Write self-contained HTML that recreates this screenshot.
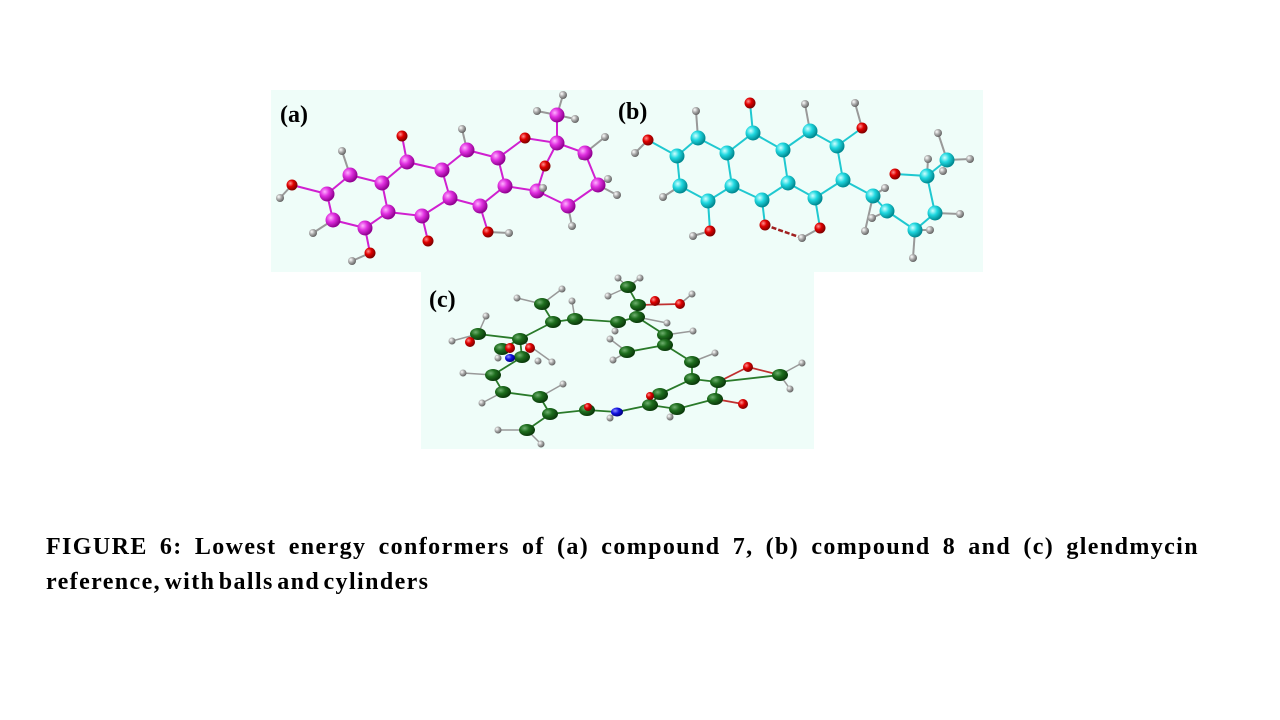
<!DOCTYPE html>
<html><head><meta charset="utf-8"><style>
body{margin:0;width:1280px;height:720px;background:#fff;overflow:hidden;position:relative;font-family:"Liberation Serif",serif}
svg{position:absolute;left:0;top:0}
.cap{position:absolute;left:46px;width:1153px;font-weight:bold;font-size:24px;letter-spacing:1.4px;line-height:35px;color:#000;white-space:nowrap}
.l1{top:530px;text-align:justify;text-align-last:justify;white-space:normal}
.l2{top:565px;word-spacing:-4px}
</style></head><body>
<svg width="1280" height="720" viewBox="0 0 1280 720">
<defs>
<radialGradient id="gm" cx="35%" cy="35%" r="65%"><stop offset="0" stop-color="#ffb0ff"/><stop offset=".45" stop-color="#e030e0"/><stop offset="1" stop-color="#900090"/></radialGradient>
<radialGradient id="gc" cx="35%" cy="35%" r="65%"><stop offset="0" stop-color="#d0ffff"/><stop offset=".45" stop-color="#20d8e0"/><stop offset="1" stop-color="#008890"/></radialGradient>
<radialGradient id="gg" cx="35%" cy="35%" r="65%"><stop offset="0" stop-color="#70b070"/><stop offset=".45" stop-color="#1e6e1e"/><stop offset="1" stop-color="#0a3a0a"/></radialGradient>
<radialGradient id="go" cx="35%" cy="35%" r="65%"><stop offset="0" stop-color="#ff9090"/><stop offset=".45" stop-color="#e00000"/><stop offset="1" stop-color="#800000"/></radialGradient>
<radialGradient id="gh" cx="35%" cy="35%" r="65%"><stop offset="0" stop-color="#fff"/><stop offset=".5" stop-color="#aaa"/><stop offset="1" stop-color="#666"/></radialGradient>
<radialGradient id="gn" cx="35%" cy="35%" r="65%"><stop offset="0" stop-color="#9090ff"/><stop offset=".5" stop-color="#1010e0"/><stop offset="1" stop-color="#000080"/></radialGradient>
</defs>
<rect x="271" y="90" width="712" height="182" fill="#effdf9"/>
<rect x="421" y="272" width="393" height="177" fill="#effdf9"/>
<text x="280" y="122" font-family="Liberation Serif" font-weight="bold" font-size="24">(a)</text>
<text x="618" y="119" font-family="Liberation Serif" font-weight="bold" font-size="24">(b)</text>
<text x="429" y="307" font-family="Liberation Serif" font-weight="bold" font-size="24">(c)</text>

<g stroke="#d020d0" stroke-width="2" fill="none">
<polyline points="350,175 327,194 333,220 365,228 388,212 382,183 350,175"/>
<polyline points="382,183 407,162 442,170 450,198 422,216 388,212"/>
<polyline points="442,170 467,150 498,158 505,186 480,206 450,198"/>
<polyline points="505,186 537,191 545,166 557,143 525,138 498,158"/>
<polyline points="557,143 585,153 598,185 568,206 537,191"/>
<line x1="557" y1="143" x2="557" y2="115"/>
<line x1="407" y1="162" x2="402" y2="136"/><line x1="327" y1="194" x2="292" y2="185"/>
<line x1="365" y1="228" x2="370" y2="253"/><line x1="422" y1="216" x2="428" y2="241"/>
<line x1="480" y1="206" x2="488" y2="232"/>
</g>
<g stroke="#999" stroke-width="2">
<line x1="350" y1="175" x2="342" y2="151"/><line x1="292" y1="185" x2="280" y2="198"/>
<line x1="333" y1="220" x2="313" y2="233"/><line x1="370" y1="253" x2="352" y2="261"/>
<line x1="467" y1="150" x2="462" y2="129"/><line x1="488" y1="232" x2="509" y2="233"/>
<line x1="557" y1="115" x2="563" y2="95"/><line x1="557" y1="115" x2="537" y2="111"/><line x1="557" y1="115" x2="575" y2="119"/>
<line x1="585" y1="153" x2="605" y2="137"/><line x1="585" y1="153" x2="582" y2="156"/>
<line x1="598" y1="185" x2="608" y2="179"/><line x1="598" y1="185" x2="617" y2="195"/>
<line x1="568" y1="206" x2="572" y2="226"/><line x1="537" y1="191" x2="543" y2="188"/>
</g>
<g fill="url(#gh)">
<circle cx="342" cy="151" r="4"/><circle cx="280" cy="198" r="4"/><circle cx="313" cy="233" r="4"/><circle cx="352" cy="261" r="4"/><circle cx="462" cy="129" r="4"/><circle cx="509" cy="233" r="4"/><circle cx="563" cy="95" r="4"/><circle cx="537" cy="111" r="4"/><circle cx="575" cy="119" r="4"/><circle cx="605" cy="137" r="4"/><circle cx="582" cy="156" r="4"/><circle cx="608" cy="179" r="4"/><circle cx="617" cy="195" r="4"/><circle cx="572" cy="226" r="4"/>
</g>
<g fill="url(#go)">
<circle cx="402" cy="136" r="5.5"/><circle cx="292" cy="185" r="5.5"/><circle cx="370" cy="253" r="5.5"/><circle cx="428" cy="241" r="5.5"/><circle cx="488" cy="232" r="5.5"/><circle cx="525" cy="138" r="5.5"/><circle cx="545" cy="166" r="5.5"/>
</g>
<g fill="url(#gm)">
<circle cx="350" cy="175" r="7.5"/><circle cx="327" cy="194" r="7.5"/><circle cx="333" cy="220" r="7.5"/><circle cx="365" cy="228" r="7.5"/><circle cx="388" cy="212" r="7.5"/><circle cx="382" cy="183" r="7.5"/><circle cx="407" cy="162" r="7.5"/><circle cx="422" cy="216" r="7.5"/><circle cx="442" cy="170" r="7.5"/><circle cx="450" cy="198" r="7.5"/><circle cx="467" cy="150" r="7.5"/><circle cx="480" cy="206" r="7.5"/><circle cx="498" cy="158" r="7.5"/><circle cx="505" cy="186" r="7.5"/><circle cx="537" cy="191" r="7.5"/><circle cx="557" cy="143" r="7.5"/><circle cx="585" cy="153" r="7.5"/><circle cx="598" cy="185" r="7.5"/><circle cx="568" cy="206" r="7.5"/><circle cx="557" cy="115" r="7.5"/>
</g>
<circle cx="543" cy="188" r="4" fill="url(#gh)"/>

<g stroke="#20c8d0" stroke-width="2" fill="none">
<polyline points="698,138 677,156 680,186 708,201 732,186 727,153 698,138"/>
<polyline points="727,153 753,133 783,150 788,183 762,200 732,186"/>
<polyline points="783,150 810,131 837,146 843,180 815,198 788,183"/>
<line x1="843" y1="180" x2="873" y2="196"/>
<polyline points="873,196 887,211 915,230 935,213 927,176 895,174"/>
<line x1="927" y1="176" x2="947" y2="160"/>
<line x1="753" y1="133" x2="750" y2="103"/><line x1="677" y1="156" x2="648" y2="140"/>
<line x1="708" y1="201" x2="710" y2="231"/><line x1="762" y1="200" x2="765" y2="225"/>
<line x1="815" y1="198" x2="820" y2="228"/><line x1="837" y1="146" x2="862" y2="128"/>
</g>
<line x1="765" y1="225" x2="802" y2="238" stroke="#a02020" stroke-width="2.5" stroke-dasharray="5,2"/>
<g stroke="#999" stroke-width="2">
<line x1="698" y1="138" x2="696" y2="111"/><line x1="648" y1="140" x2="635" y2="153"/><line x1="680" y1="186" x2="663" y2="197"/><line x1="710" y1="231" x2="693" y2="236"/><line x1="810" y1="131" x2="805" y2="104"/><line x1="862" y1="128" x2="855" y2="103"/><line x1="820" y1="228" x2="802" y2="238"/>
<line x1="947" y1="160" x2="938" y2="133"/><line x1="947" y1="160" x2="970" y2="159"/><line x1="927" y1="176" x2="928" y2="159"/><line x1="873" y1="196" x2="885" y2="188"/><line x1="887" y1="211" x2="872" y2="218"/><line x1="873" y1="196" x2="865" y2="231"/><line x1="935" y1="213" x2="960" y2="214"/><line x1="915" y1="230" x2="930" y2="230"/><line x1="915" y1="230" x2="913" y2="258"/>
</g>
<g fill="url(#gh)">
<circle cx="696" cy="111" r="4"/><circle cx="635" cy="153" r="4"/><circle cx="663" cy="197" r="4"/><circle cx="693" cy="236" r="4"/><circle cx="805" cy="104" r="4"/><circle cx="855" cy="103" r="4"/><circle cx="802" cy="238" r="4"/><circle cx="938" cy="133" r="4"/><circle cx="970" cy="159" r="4"/><circle cx="928" cy="159" r="4"/><circle cx="943" cy="171" r="4"/><circle cx="885" cy="188" r="4"/><circle cx="872" cy="218" r="4"/><circle cx="865" cy="231" r="4"/><circle cx="960" cy="214" r="4"/><circle cx="913" cy="258" r="4"/>
</g>
<g fill="url(#go)">
<circle cx="750" cy="103" r="5.5"/><circle cx="648" cy="140" r="5.5"/><circle cx="710" cy="231" r="5.5"/><circle cx="765" cy="225" r="5.5"/><circle cx="820" cy="228" r="5.5"/><circle cx="862" cy="128" r="5.5"/><circle cx="895" cy="174" r="5.5"/>
</g>
<g fill="url(#gc)">
<circle cx="698" cy="138" r="7.5"/><circle cx="677" cy="156" r="7.5"/><circle cx="680" cy="186" r="7.5"/><circle cx="708" cy="201" r="7.5"/><circle cx="732" cy="186" r="7.5"/><circle cx="727" cy="153" r="7.5"/><circle cx="753" cy="133" r="7.5"/><circle cx="762" cy="200" r="7.5"/><circle cx="783" cy="150" r="7.5"/><circle cx="788" cy="183" r="7.5"/><circle cx="810" cy="131" r="7.5"/><circle cx="815" cy="198" r="7.5"/><circle cx="837" cy="146" r="7.5"/><circle cx="843" cy="180" r="7.5"/><circle cx="873" cy="196" r="7.5"/><circle cx="887" cy="211" r="7.5"/><circle cx="915" cy="230" r="7.5"/><circle cx="935" cy="213" r="7.5"/><circle cx="927" cy="176" r="7.5"/><circle cx="947" cy="160" r="7.5"/>
</g>
<circle cx="930" cy="230" r="4" fill="url(#gh)"/>

<g stroke="#2a7a2a" stroke-width="1.8" fill="none">
<polyline points="542,304 553,322 575,319 618,322 637,317 638,305 628,287"/>
<polyline points="553,322 520,339 522,357 493,375 503,392 540,397 550,414 527,430"/>
<polyline points="550,414 587,410 617,412 650,405 677,409 715,399 718,382 692,379 692,362 665,345 665,335 637,317"/>
<polyline points="665,345 627,352"/><polyline points="650,405 660,394 692,379"/>
<line x1="520" y1="339" x2="478" y2="334"/><line x1="502" y1="349" x2="520" y2="339"/>
<line x1="718" y1="382" x2="780" y2="375"/>
</g>
<g stroke="#c03030" stroke-width="1.8"><line x1="638" y1="305" x2="680" y2="304"/><line x1="478" y1="334" x2="470" y2="342"/><line x1="715" y1="399" x2="743" y2="404"/><line x1="718" y1="382" x2="748" y2="367"/><line x1="748" y1="367" x2="780" y2="375"/></g>
<g stroke="#999" stroke-width="1.5">
<line x1="542" y1="304" x2="517" y2="298"/><line x1="542" y1="304" x2="562" y2="289"/><line x1="575" y1="319" x2="572" y2="301"/><line x1="628" y1="287" x2="618" y2="278"/><line x1="628" y1="287" x2="640" y2="278"/><line x1="628" y1="287" x2="608" y2="296"/><line x1="680" y1="304" x2="692" y2="294"/><line x1="637" y1="317" x2="667" y2="323"/><line x1="665" y1="335" x2="693" y2="331"/><line x1="627" y1="352" x2="610" y2="339"/><line x1="627" y1="352" x2="613" y2="360"/><line x1="692" y1="362" x2="715" y2="353"/><line x1="493" y1="375" x2="463" y2="373"/><line x1="503" y1="392" x2="482" y2="403"/><line x1="540" y1="397" x2="563" y2="384"/><line x1="527" y1="430" x2="498" y2="430"/><line x1="527" y1="430" x2="541" y2="444"/><line x1="617" y1="412" x2="610" y2="418"/><line x1="677" y1="409" x2="670" y2="417"/><line x1="780" y1="375" x2="802" y2="363"/><line x1="780" y1="375" x2="790" y2="389"/><line x1="478" y1="334" x2="486" y2="316"/><line x1="478" y1="334" x2="452" y2="341"/><line x1="520" y1="339" x2="552" y2="362"/></g>
<g fill="url(#gh)">
<circle cx="517" cy="298" r="3.5"/><circle cx="562" cy="289" r="3.5"/><circle cx="572" cy="301" r="3.5"/><circle cx="618" cy="278" r="3.5"/><circle cx="640" cy="278" r="3.5"/><circle cx="608" cy="296" r="3.5"/><circle cx="692" cy="294" r="3.5"/><circle cx="667" cy="323" r="3.5"/><circle cx="693" cy="331" r="3.5"/><circle cx="610" cy="339" r="3.5"/><circle cx="613" cy="360" r="3.5"/><circle cx="715" cy="353" r="3.5"/><circle cx="463" cy="373" r="3.5"/><circle cx="482" cy="403" r="3.5"/><circle cx="563" cy="384" r="3.5"/><circle cx="498" cy="430" r="3.5"/><circle cx="541" cy="444" r="3.5"/><circle cx="610" cy="418" r="3.5"/><circle cx="670" cy="417" r="3.5"/><circle cx="802" cy="363" r="3.5"/><circle cx="790" cy="389" r="3.5"/><circle cx="486" cy="316" r="3.5"/><circle cx="452" cy="341" r="3.5"/><circle cx="552" cy="362" r="3.5"/><circle cx="538" cy="361" r="3.5"/><circle cx="498" cy="358" r="3.5"/><circle cx="615" cy="331" r="3.5"/><circle cx="640" cy="306" r="3.5"/>
</g>
<g fill="url(#gg)">
<ellipse cx="542" cy="304" rx="8" ry="6"/><ellipse cx="553" cy="322" rx="8" ry="6"/><ellipse cx="575" cy="319" rx="8" ry="6"/><ellipse cx="618" cy="322" rx="8" ry="6"/><ellipse cx="637" cy="317" rx="8" ry="6"/><ellipse cx="638" cy="305" rx="8" ry="6"/><ellipse cx="628" cy="287" rx="8" ry="6"/><ellipse cx="520" cy="339" rx="8" ry="6"/><ellipse cx="478" cy="334" rx="8" ry="6"/><ellipse cx="502" cy="349" rx="8" ry="6"/><ellipse cx="522" cy="357" rx="8" ry="6"/><ellipse cx="493" cy="375" rx="8" ry="6"/><ellipse cx="503" cy="392" rx="8" ry="6"/><ellipse cx="540" cy="397" rx="8" ry="6"/><ellipse cx="550" cy="414" rx="8" ry="6"/><ellipse cx="527" cy="430" rx="8" ry="6"/><ellipse cx="587" cy="410" rx="8" ry="6"/><ellipse cx="650" cy="405" rx="8" ry="6"/><ellipse cx="677" cy="409" rx="8" ry="6"/><ellipse cx="660" cy="394" rx="8" ry="6"/><ellipse cx="692" cy="379" rx="8" ry="6"/><ellipse cx="718" cy="382" rx="8" ry="6"/><ellipse cx="715" cy="399" rx="8" ry="6"/><ellipse cx="780" cy="375" rx="8" ry="6"/><ellipse cx="665" cy="335" rx="8" ry="6"/><ellipse cx="665" cy="345" rx="8" ry="6"/><ellipse cx="627" cy="352" rx="8" ry="6"/><ellipse cx="692" cy="362" rx="8" ry="6"/>
</g>
<g fill="url(#go)">
<circle cx="655" cy="301" r="5"/><circle cx="680" cy="304" r="5"/><circle cx="470" cy="342" r="5"/><circle cx="510" cy="348" r="5"/><circle cx="530" cy="348" r="5"/><circle cx="748" cy="367" r="5"/><circle cx="743" cy="404" r="5"/><circle cx="650" cy="396" r="4"/><circle cx="588" cy="407" r="4"/>
</g>
<g fill="url(#gn)"><ellipse cx="617" cy="412" rx="6" ry="4.5"/><ellipse cx="510" cy="358" rx="5" ry="4"/></g>
</svg>
<div class="cap l1">FIGURE 6: Lowest energy conformers of (a) compound 7, (b) compound 8 and (c) glendmycin</div>
<div class="cap l2">reference, with balls and cylinders</div>
</body></html>
